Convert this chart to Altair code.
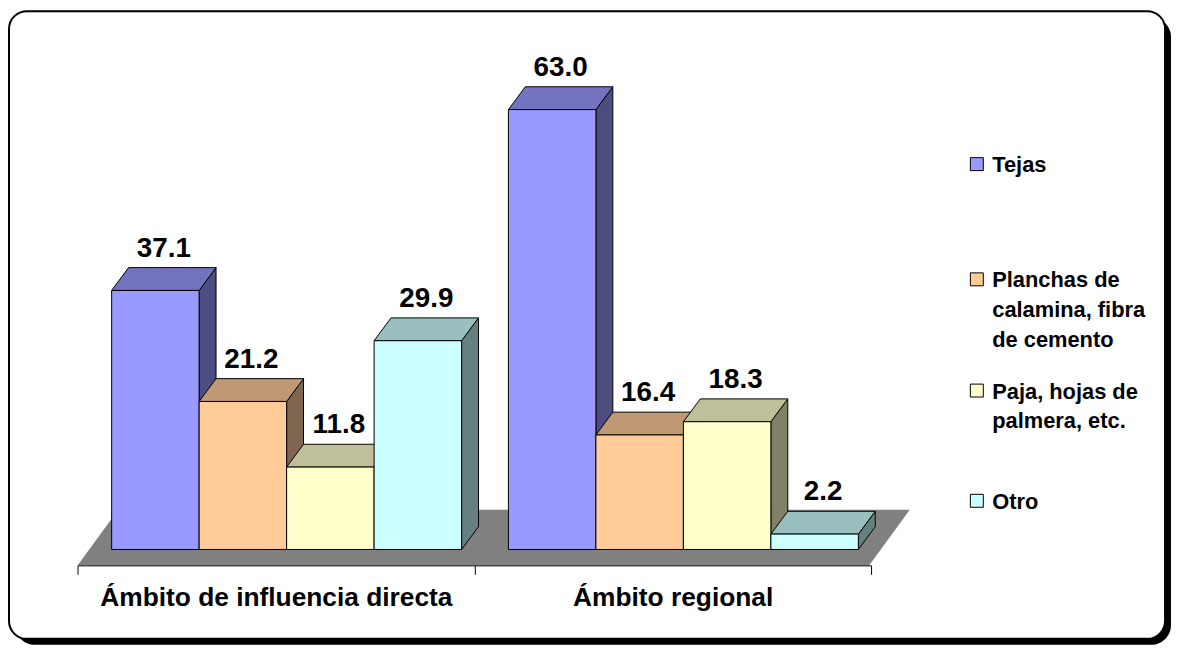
import altair as alt
import pandas as pd

# ---------------- data ----------------
categories = ["Ámbito de influencia directa", "Ámbito regional"]
series = ["Tejas", "Planchas de calamina, fibra de cemento",
          "Paja, hojas de palmera, etc.", "Otro"]
legend_lines = [["Tejas"], [" Planchas de", "calamina, fibra", "de cemento"],
                ["Paja, hojas de", "palmera, etc."], ["Otro"]]
values_directa = [37.1, 21.2, 11.8, 29.9]
values_regional = [63.0, 16.4, 18.3, 2.2]

front_colors = ["#9999FF", "#FFCC99", "#FFFFCC", "#CCFFFF"]
top_colors = ["#7373BF", "#BF9973", "#BFBF99", "#99BFBF"]
side_colors = ["#4D4D80", "#806650", "#808066", "#668080"]

# ---------------- layout (style) constants ----------------
FONT = "Liberation Sans, Arial, sans-serif"
X_RANGE = [70, 869]          # pixel span of the two category bands
Y_DOMAIN = [0, 70]
Y_RANGE = [543, 543 - 70 * 7.03]
PAD = 0.086                  # gap from band start to first bar (band units)
W = 0.2205                   # bar width (band units)
DX = 0.0426                  # 3-D depth, horizontal (band units)
DY = 3.27                    # 3-D depth, vertical (value units)
FLOOR_FRONT = -2.28
FLOOR_BACK = 5.69
FLOOR_SHIFT = 0.1026

xs = alt.Scale(domain=[0, 2], range=X_RANGE, nice=False, zero=False)
ys = alt.Scale(domain=Y_DOMAIN, range=Y_RANGE, nice=False, zero=False)

label_expr = ("datum.value == 0.5 ? '%s' : datum.value == 1.5 ? '%s' : ''"
              % (categories[0], categories[1]))
x_axis = alt.Axis(values=[0, 0.5, 1, 1.5, 2], labelExpr=label_expr, title=None,
                  grid=False, domainColor="black", domainWidth=1,
                  tickColor="black", tickSize=9, tickWidth=1,
                  tickOpacity={"condition": {"test": "datum.value % 1 === 0", "value": 1}, "value": 0},
                  labelFont=FONT, labelFontSize=26.5, labelFontWeight="bold",
                  labelColor="black", labelPadding=10, labelFlush=False,
                  labelOverlap=False, labelBound=False, labelLimit=800, zindex=2)


def X(field):
    return alt.X(field, type="quantitative", scale=xs, axis=x_axis, stack=None)


def Y(field):
    return alt.Y(field, type="quantitative", scale=ys, axis=None, stack=None)


# ---------------- build tables ----------------
bars, sides, tops = [], [], []
for g, vals in enumerate([values_directa, values_regional]):
    for s, v in enumerate(vals):
        x0 = g + PAD + s * W
        x1 = x0 + W
        bid = "b%d%d" % (g, s)
        bars.append({"id": bid, "x0": x0, "x1": x1, "v": v, "c": front_colors[s],
                     "lx": (x0 + x1) / 2 + DX / 2, "ly": v + DY, "txt": "%.1f" % v})
        sides.append({"id": bid, "x": x1, "y": v, "y2": 0, "c": side_colors[s]})
        sides.append({"id": bid, "x": x1 + DX, "y": v + DY, "y2": DY, "c": side_colors[s]})
        tops.append({"id": bid, "y": v, "x": x0, "x2": x1, "c": top_colors[s]})
        tops.append({"id": bid, "y": v + DY, "x": x0 + DX, "x2": x1 + DX, "c": top_colors[s]})

bars_df = pd.DataFrame(bars)
sides_df = pd.DataFrame(sides)
tops_df = pd.DataFrame(tops)
floor_df = pd.DataFrame([
    {"y": FLOOR_FRONT, "x": 0, "x2": 1.995},
    {"y": FLOOR_BACK, "x": FLOOR_SHIFT, "x2": 1.995 + FLOOR_SHIFT},
])

one = alt.Data(values=[{"k": 1}])

# ---------------- frame ----------------
shadow = alt.Chart(one).mark_rect(fill="black", cornerRadius=20).encode(
    x=alt.value(7), x2=alt.value(1171), y=alt.value(7), y2=alt.value(639))
frame = alt.Chart(one).mark_rect(fill="white", stroke="black", strokeWidth=2,
                                 cornerRadius=18).encode(
    x=alt.value(1), x2=alt.value(1165), y=alt.value(1), y2=alt.value(633))

# ---------------- 3-D bars ----------------
floor = alt.Chart(floor_df).mark_area(orient="horizontal", fill="#808080").encode(
    y=Y("y"), x=X("x"), x2="x2:Q")

side_layer = alt.Chart(sides_df).mark_area(stroke="black", strokeWidth=1,
                                           strokeJoin="miter").encode(
    x=X("x"), y=Y("y"), y2="y2:Q", detail="id:N",
    fill=alt.Fill("c:N", scale=None))

top_layer = alt.Chart(tops_df).mark_area(orient="horizontal", stroke="black",
                                         strokeWidth=1, strokeJoin="miter").encode(
    y=Y("y"), x=X("x"), x2="x2:Q", detail="id:N",
    fill=alt.Fill("c:N", scale=None))

front_layer = alt.Chart(bars_df).mark_rect(stroke="black", strokeWidth=1).encode(
    x=X("x0"), x2="x1:Q", y=Y("v"), y2=alt.Y2(datum=0),
    fill=alt.Fill("c:N", scale=None))

labels = alt.Chart(bars_df).mark_text(font=FONT, fontSize=28, fontWeight="bold",
                                      color="black", baseline="alphabetic",
                                      align="center", dy=-11).encode(
    x=X("lx"), y=Y("ly"), text="txt:N")

# ---------------- legend ----------------
LEG_TEXT_X = 991
LEG_SQ_X = 975.5
LEG_BASELINES = [163, 279, 391, 502]
legend_layers = []
for i, name in enumerate(series):
    d = alt.Data(values=[{"s": name}])
    legend_layers.append(
        alt.Chart(d).mark_square(size=170, filled=True, fill=front_colors[i],
                                 stroke="black", strokeWidth=1, opacity=1).encode(
            x=alt.value(LEG_SQ_X), y=alt.value(LEG_BASELINES[i] - 8)))
    legend_layers.append(
        alt.Chart(d).mark_text(text=legend_lines[i], font=FONT, fontSize=22,
                               fontWeight="bold", color="black", align="left",
                               baseline="alphabetic", lineHeight=30).encode(
            x=alt.value(LEG_TEXT_X), y=alt.value(LEG_BASELINES[i])))

chart = alt.layer(
    shadow, frame, floor, side_layer, top_layer, front_layer, labels, *legend_layers
).properties(
    width=1172, height=559, autosize="none",
    padding={"left": 0, "top": 0, "right": 0, "bottom": 81},
    background="white",
).configure_view(stroke=None)

chart.save("out.html", embed_options={"renderer": "svg", "actions": False})
